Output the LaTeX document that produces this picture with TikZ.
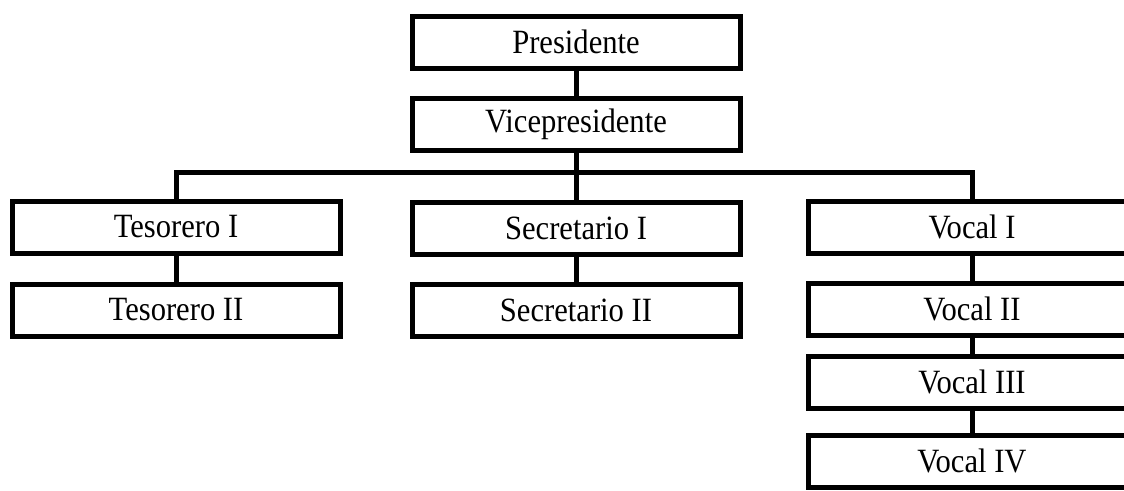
\documentclass[tikz,border=0pt]{standalone}
\usepackage{fontspec}
\setmainfont{Liberation Serif}[FakeStretch=0.9]
\usepackage{tikz}
\usepackage{xcolor}

\begin{document}
\begin{tikzpicture}[x=1pt,y=-1pt,
  cargo/.style={draw,line width=5pt,minimum width=328pt,minimum height=52pt,inner sep=0pt,font=\fontsize{34}{40}\selectfont},
  linea/.style={line width=5pt}]
\useasboundingbox (0,0) rectangle (1124,490);

\node[cargo] (pres) at (576,42) {Presidente};
\node[cargo] (vice) at (576,124) {Vicepresidente};

\node[cargo] (tes1) at (176,227) {Tesorero I};
\node[cargo] (tes2) at (176,310) {Tesorero II};

\node[cargo] (sec1) at (576,228) {Secretario I};
\node[cargo] (sec2) at (576,310) {Secretario II};

\node[cargo] (voc1) at (972,227) {Vocal I};
\node[cargo] (voc2) at (972,309) {Vocal II};
\node[cargo] (voc3) at (972,382) {Vocal III};
\node[cargo] (voc4) at (972,461) {Vocal IV};

\coordinate (bar) at (576,172);

\draw[linea] (pres) -- (vice);
\draw[linea] (vice) -- (sec1);
\draw[linea] (tes1.north) |- (bar) -| (voc1.north);
\draw[linea] (tes1) -- (tes2);
\draw[linea] (sec1) -- (sec2);
\draw[linea] (voc1) -- (voc2);
\draw[linea] (voc2) -- (voc3);
\draw[linea] (voc3) -- (voc4);
\end{tikzpicture}
\end{document}
